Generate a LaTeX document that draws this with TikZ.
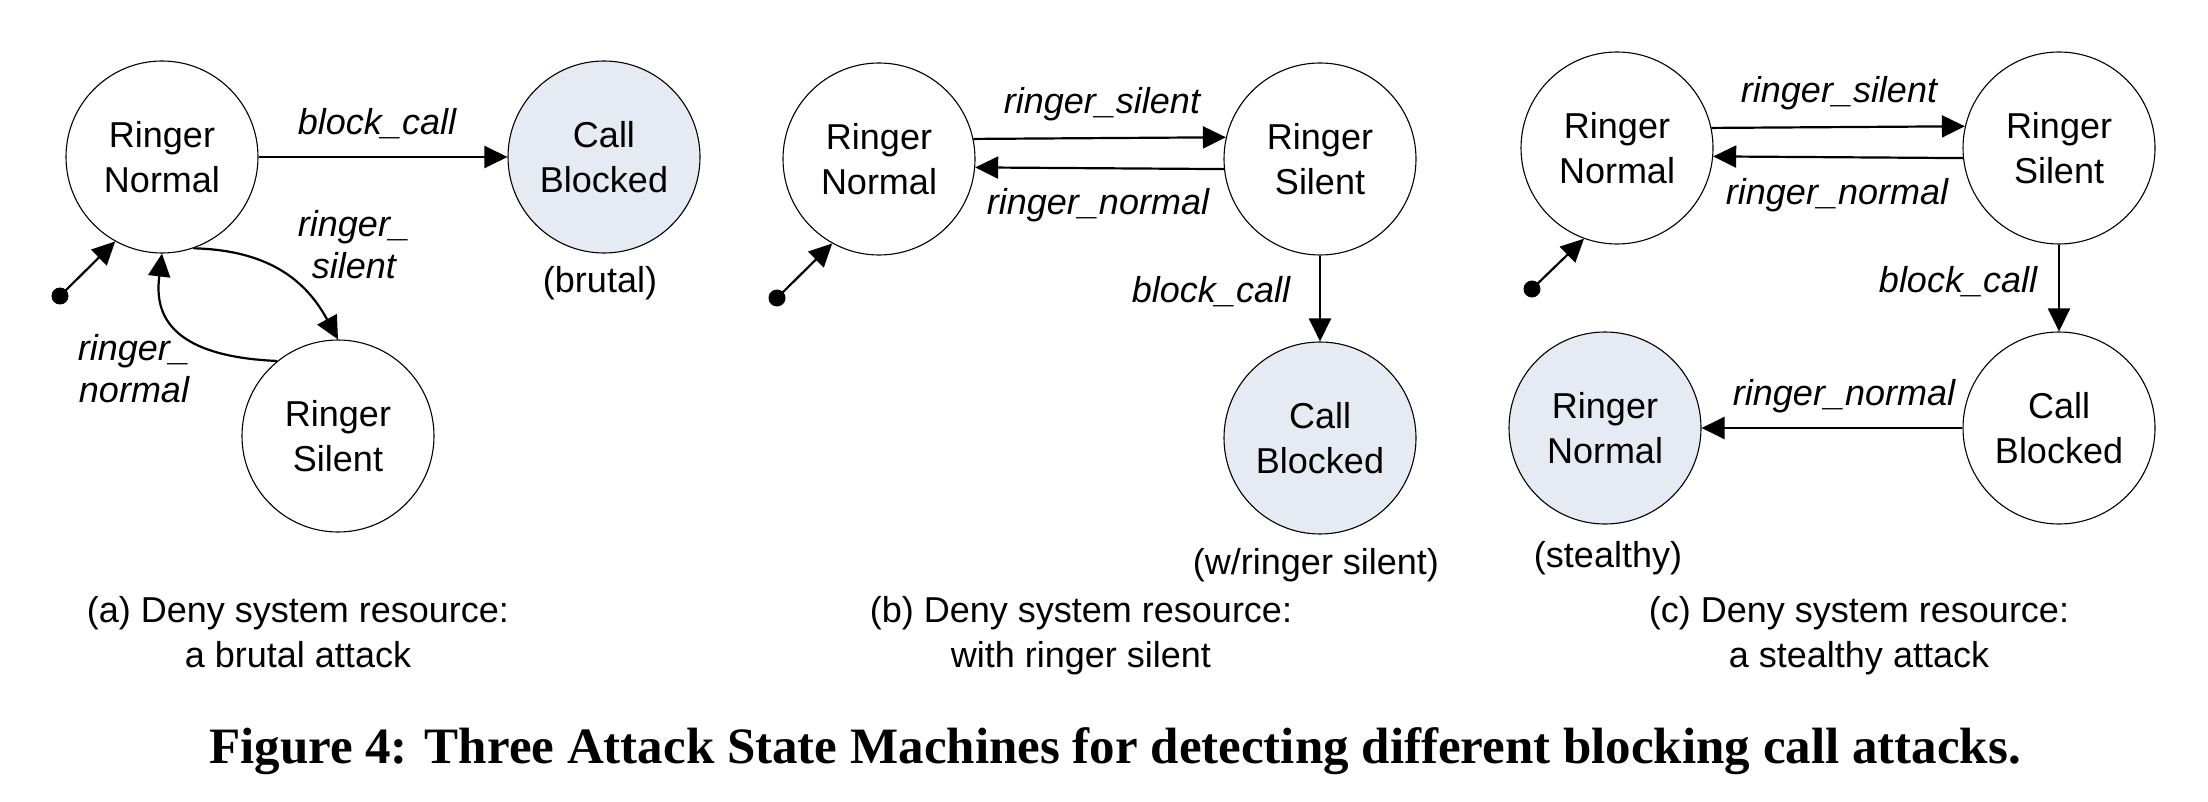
\documentclass[tikz,border=0pt]{standalone}
\usepackage{fontspec}
\setmainfont{Liberation Sans}
\newfontfamily\titlefont{Liberation Serif}
\usetikzlibrary{arrows.meta}
\definecolor{statefill}{RGB}{230,234,242}
\begin{document}
\begin{tikzpicture}[x=1pt, y=-1pt,
  every node/.style={font=\fontsize{36}{45}\selectfont},
  state/.style={circle, draw, line width=1.1pt, minimum size=192pt, inner sep=0pt, align=center, fill=white},
  goal/.style={state, fill=statefill},
  lbl/.style={font=\fontsize{36}{42}\selectfont\itshape, anchor=base, align=center, inner sep=0pt},
  captext/.style={anchor=base, align=center, inner sep=0pt},
  trans/.style={line width=2.2pt, -{Triangle[length=23pt, width=22pt]}},
  initdot/.style={circle, fill, inner sep=0pt, minimum size=17pt}
]
\fill[white] (0,0) rectangle (2208,802);
\useasboundingbox (0,0) rectangle (2208,802);

% ---------- panel (a)
\node[state] (RNa) at (162,157) {Ringer\\Normal};
\node[goal]  (CBa) at (604,157) {Call\\Blocked};
\node[state] (RSa) at (338,436) {Ringer\\Silent};
\node[initdot] (Ia) at (60,296) {};
\draw[trans] (Ia.center) -- (RNa.241);
\draw[trans] (RNa) -- (CBa);
\node[lbl] (La1) at (377,135) {block\_call};
\draw[trans] (RNa.-71) .. controls +(80,2) and +(-30,-55) .. (RSa.north);
\node[lbl] (La2) at (354,279) {ringer\_\\silent};
\draw[trans] (RSa.129.5) .. controls +(-120,-5) and +(-6,50) .. (RNa.south);
\node[lbl] (La3) at (134,402) {ringer\_\\normal};
\node[captext] (Na) at (600,293) {(brutal)};
\node[captext] (Ca) at (298,667) {(a) Deny system resource:\\a brutal attack};

% ---------- panel (b)
\node[state] (RNb) at (879,159) {Ringer\\Normal};
\node[state] (RSb) at (1320,159) {Ringer\\Silent};
\node[goal]  (CBb) at (1320,438) {Call\\Blocked};
\node[initdot] (Ib) at (777,298) {};
\draw[trans] (Ib.center) -- (RNb.241);
\draw[trans] (RNb.12.6) -- (RSb.167.4);
\draw[trans] (RSb.-174.6) -- (RNb.-5.4);
\node[lbl] (Lb1) at (1102,114) {ringer\_silent};
\node[lbl] (Lb2) at (1098,215) {ringer\_normal};
\draw[trans] (RSb) -- (CBb);
\node[lbl] (Lb3) at (1211,302) {block\_call};
\node[captext] (Nb) at (1316,574) {(w/ringer silent)};
\node[captext] (Cb) at (1081,667) {(b) Deny system resource:\\with ringer silent};

% ---------- panel (c)
\node[state] (RNc) at (1617,148) {Ringer\\Normal};
\node[state] (RSc) at (2059,148) {Ringer\\Silent};
\node[state] (CBc) at (2059,428) {Call\\Blocked};
\node[goal]  (SNc) at (1605,428) {Ringer\\Normal};
\node[initdot] (Ic) at (1532,289) {};
\draw[trans] (Ic.center) -- (RNc.250);
\draw[trans] (RNc.12.6) -- (RSc.167.4);
\draw[trans] (RSc.-174.6) -- (RNc.-5.4);
\node[lbl] (Lc1) at (1839,103) {ringer\_silent};
\node[lbl] (Lc2) at (1837,205) {ringer\_normal};
\draw[trans] (RSc) -- (CBc);
\node[lbl] (Lc3) at (1958,292) {block\_call};
\draw[trans] (CBc) -- (SNc);
\node[lbl] (Lc4) at (1844,405) {ringer\_normal};
\node[captext] (Nc) at (1608,567) {(stealthy)};
\node[captext] (Cc) at (1859,667) {(c) Deny system resource:\\a stealthy attack};

% ---------- title
\node[anchor=base, inner sep=0pt, font={\fontsize{51}{60}\selectfont\titlefont\bfseries}] (T) at (1115,763)
  {Figure 4: Three Attack State Machines for detecting different blocking call attacks.};
\end{tikzpicture}
\end{document}
